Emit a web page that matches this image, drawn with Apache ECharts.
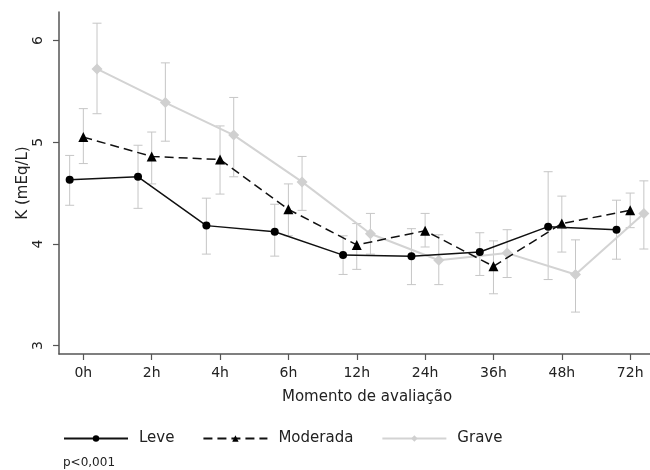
<!DOCTYPE html>
<html>
<head>
<meta charset="utf-8">
<script src="https://cdn.jsdelivr.net/npm/echarts@6/dist/echarts.min.js"></script>
<style>html,body{margin:0;padding:0;background:#fff;}#chart{width:650px;height:470px;}</style>
</head>
<body>
<div id="chart"></div>
<script>
var categories = ['0h','2h','4h','6h','12h','24h','36h','48h','72h'];
var yTicks = [3, 4, 5, 6];
var leveMean = [4.63, 4.66, 4.18, 4.12, 3.89, 3.88, 3.92, 4.17, 4.14];
var leveLow  = [4.38, 4.35, 3.90, 3.88, 3.70, 3.60, 3.69, 3.65, 3.85];
var leveHigh = [4.87, 4.97, 4.45, 4.39, 4.08, 4.15, 4.11, 4.71, 4.43];
var modMean = [5.05, 4.86, 4.83, 4.34, 3.99, 4.13, 3.78, 4.20, 4.33];
var modLow  = [4.79, 4.59, 4.49, 4.08, 3.75, 3.97, 3.51, 3.92, 4.16];
var modHigh = [5.33, 5.10, 5.16, 4.59, 4.20, 4.30, 4.03, 4.47, 4.50];
var gravMean = [5.72, 5.39, 5.07, 4.61, 4.10, 3.84, 3.91, 3.70, 4.30];
var gravLow  = [5.28, 5.01, 4.66, 4.33, 3.90, 3.60, 3.67, 3.33, 3.95];
var gravHigh = [6.17, 5.78, 5.44, 4.86, 4.30, 4.09, 4.14, 4.04, 4.62];
var seriesNames = ['Leve', 'Moderada', 'Grave'];

var FONT = 'DejaVu Sans';
var offsets = [-0.2, 0, 0.2];
var errColor = '#c6c6c6';

function pts(means, off) {
  return means.map(function (v, i) { return [i + off, v]; });
}
function errs(lows, highs, off) {
  return lows.map(function (v, i) { return [i + off, v, highs[i]]; });
}
function renderErr(params, api) {
  var x = api.value(0);
  var lo = api.coord([x, api.value(1)]);
  var hi = api.coord([x, api.value(2)]);
  var cap = 4.5;
  var st = { stroke: errColor, lineWidth: 1 };
  return {
    type: 'group',
    children: [
      { type: 'line', shape: { x1: lo[0], y1: lo[1], x2: hi[0], y2: hi[1] }, style: st },
      { type: 'line', shape: { x1: hi[0] - cap, y1: hi[1], x2: hi[0] + cap, y2: hi[1] }, style: st },
      { type: 'line', shape: { x1: lo[0] - cap, y1: lo[1], x2: lo[0] + cap, y2: lo[1] }, style: st }
    ]
  };
}

var chart = echarts.init(document.getElementById('chart'), null, { renderer: 'canvas' });
var option = {
  backgroundColor: '#ffffff',
  animation: false,
  textStyle: { fontFamily: FONT },
  grid: { left: 59, right: 0, top: 12, bottom: 116 },
  xAxis: {
    type: 'value',
    min: -0.356,
    max: 8.29,
    splitLine: { show: false },
    axisLine: { onZero: false, lineStyle: { color: '#555', width: 1.5 } },
    axisTick: { length: 6, lineStyle: { color: '#555', width: 1.2 }, customValues: [0,1,2,3,4,5,6,7,8] },
    axisLabel: {
      customValues: [0,1,2,3,4,5,6,7,8],
      formatter: function (v) { return categories[Math.round(v)]; },
      color: '#222', fontSize: 14, fontFamily: FONT, margin: 12
    }
  },
  yAxis: {
    type: 'value',
    min: 2.918,
    max: 6.28,
    name: 'K (mEq/L)',
    nameLocation: 'middle',
    nameGap: 28,
    nameMoveOverlap: false,
    nameRotate: 90,
    nameTextStyle: { color: '#222', fontSize: 15, fontFamily: FONT },
    splitLine: { show: false },
    axisLine: { show: true, onZero: false, lineStyle: { color: '#555', width: 1.5 } },
    axisTick: { show: true, length: 6, lineStyle: { color: '#555', width: 1.2 }, customValues: yTicks },
    axisLabel: {
      customValues: yTicks,
      rotate: 90,
      color: '#222', fontSize: 14, fontFamily: FONT, margin: 14
    }
  },
  legend: {
    data: seriesNames,
    left: 63,
    top: 431,
    padding: 0,
    itemWidth: 64,
    itemHeight: 8,
    itemGap: 28,
    textStyle: { color: '#222', fontSize: 15, fontFamily: FONT, padding: [0, 0, 0, 6] }
  },
  graphic: [
    { type: 'text', left: 282, top: 390, style: { text: 'Momento de avaliação', font: '15px "DejaVu Sans"', fill: '#222' } },
    { type: 'text', left: 63, top: 457, style: { text: 'p<0,001', font: '12px "DejaVu Sans"', fill: '#222' } }
  ],
  series: [
    { type: 'custom', name: 'errLeve', renderItem: renderErr, data: errs(leveLow, leveHigh, offsets[0]), encode: { x: 0, y: [1, 2] }, z: 1, silent: true },
    { type: 'custom', name: 'errMod', renderItem: renderErr, data: errs(modLow, modHigh, offsets[1]), encode: { x: 0, y: [1, 2] }, z: 1, silent: true },
    { type: 'custom', name: 'errGrav', renderItem: renderErr, data: errs(gravLow, gravHigh, offsets[2]), encode: { x: 0, y: [1, 2] }, z: 1, silent: true },
    {
      type: 'line', name: 'Grave', data: pts(gravMean, offsets[2]), z: 2,
      symbol: 'diamond', symbolSize: 11,
      lineStyle: { color: '#d3d3d3', width: 2 },
      itemStyle: { color: '#d0d0d0' }
    },
    {
      type: 'line', name: 'Moderada', data: pts(modMean, offsets[1]), z: 3,
      symbol: 'triangle', symbolSize: 10,
      lineStyle: { color: '#111', width: 1.5, type: [9, 5] },
      itemStyle: { color: '#000' }
    },
    {
      type: 'line', name: 'Leve', data: pts(leveMean, offsets[0]), z: 4,
      symbol: 'circle', symbolSize: 8,
      lineStyle: { color: '#111', width: 1.5 },
      itemStyle: { color: '#000' }
    }
  ]
};
chart.setOption(option);
</script>
</body>
</html>
